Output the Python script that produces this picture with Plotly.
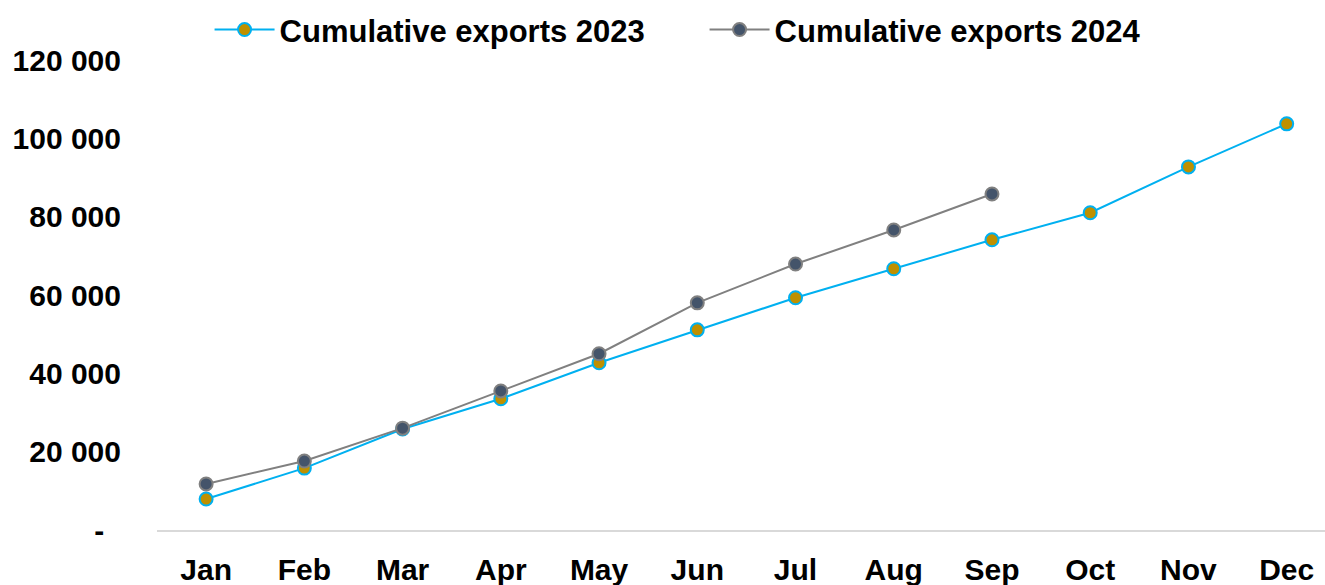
import plotly.graph_objects as go

months = ["Jan", "Feb", "Mar", "Apr", "May", "Jun", "Jul", "Aug", "Sep", "Oct", "Nov", "Dec"]
exports_2023 = [7900, 15800, 25800, 33500, 42700, 51100, 59300, 66700, 74100, 81000, 92700, 103700]
exports_2024 = [11750, 17600, 26000, 35500, 45000, 58000, 67900, 76600, 85800]
y_ticks = [0, 20000, 40000, 60000, 80000, 100000, 120000]
y_tick_text = ["-\u00a0\u00a0", "20 000", "40 000", "60 000", "80 000", "100 000", "120 000"]

FONT = "Liberation Sans, Arial, sans-serif"

fig = go.Figure()
fig.add_trace(go.Scatter(
    x=months, y=exports_2023, name="Cumulative exports 2023",
    mode="lines+markers",
    line=dict(color="#00B0F0", width=2),
    marker=dict(size=13, color="#BF9000", line=dict(color="#00B0F0", width=2)),
))
fig.add_trace(go.Scatter(
    x=months[:len(exports_2024)], y=exports_2024, name="Cumulative exports 2024",
    mode="lines+markers",
    line=dict(color="#808080", width=2),
    marker=dict(size=13, color="#44546A", line=dict(color="#808080", width=2)),
))

fig.update_layout(
    width=1325, height=585,
    margin=dict(l=157, r=0, t=60, b=55),
    paper_bgcolor="white", plot_bgcolor="white",
    font=dict(family=FONT, color="black"),
    showlegend=True,
    legend=dict(
        orientation="h", x=0.045, xanchor="left", y=1.064, yanchor="middle",
        font=dict(size=31, family=FONT, color="black", weight="bold"),
        itemwidth=60,
        entrywidth=420, entrywidthmode="pixels",
        bgcolor="rgba(0,0,0,0)",
    ),
    xaxis=dict(
        type="category", range=[-0.5, 11.39],
        showgrid=False, showline=True, linecolor="#D9D9D9", linewidth=2,
        ticks="", tickfont=dict(size=30, family=FONT, color="black", weight="bold"),
        ticklabelstandoff=12,
        zeroline=False,
    ),
    yaxis=dict(
        range=[0, 120000], tickvals=y_ticks, ticktext=y_tick_text,
        showgrid=False, showline=False, zeroline=False, ticks="",
        tickfont=dict(size=30, family=FONT, color="black", weight="bold"),
        ticklabelstandoff=35,
    ),
)

fig.write_html("out.html")
